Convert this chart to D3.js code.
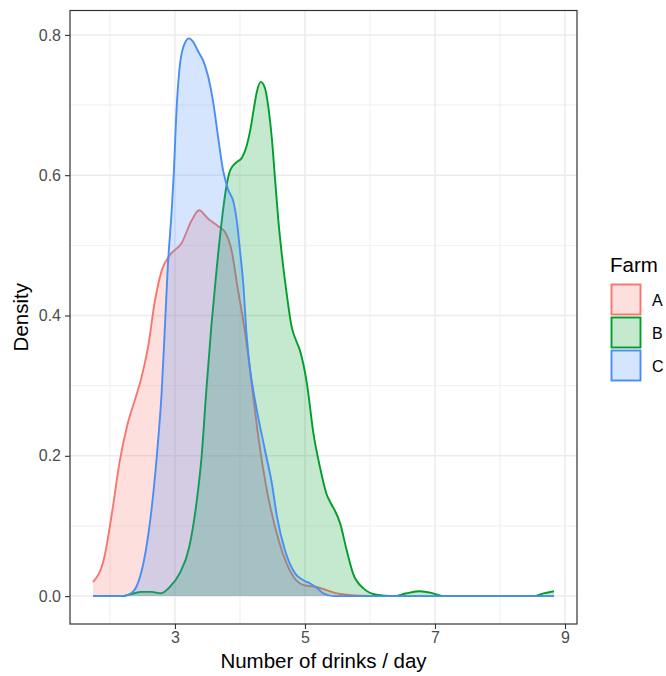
<!DOCTYPE html>
<html>
<head>
<meta charset="utf-8">
<script src="https://cdn.jsdelivr.net/npm/d3@7"></script>
<style>
  body { margin: 0; background: #fff; }
  text { font-family: "Liberation Sans", Arial, Helvetica, sans-serif; }
</style>
</head>
<body>
<svg id="chart" width="666" height="676"></svg>
<script>
// density estimates, one pair of arrays per farm
var farms = ["A", "B", "C"]
var colors = ["#F8766D", "#009E2A", "#4A8DF6"]

var drinksA  = [1.74, 1.92, 2.03, 2.15, 2.27, 2.385, 2.48, 2.59, 2.69, 2.80, 2.92, 3.10, 3.26, 3.37, 3.51, 3.67, 3.77, 3.87, 3.97, 4.05, 4.13, 4.21, 4.29, 4.40, 4.61, 4.82, 4.97, 5.10, 5.18, 5.33, 5.54, 5.85, 6.2, 8.83]
var densityA = [0.020, 0.058, 0.118, 0.192, 0.245, 0.280, 0.310, 0.357, 0.420, 0.465, 0.486, 0.503, 0.536, 0.550, 0.538, 0.527, 0.519, 0.493, 0.436, 0.393, 0.341, 0.280, 0.222, 0.158, 0.075, 0.028, 0.016, 0.014, 0.013, 0.0086, 0.003, 0.0005, 0, 0]

var drinksB  = [1.74, 2.2, 2.33, 2.49, 2.64, 2.78, 2.91, 3.07, 3.22, 3.32, 3.41, 3.48, 3.56, 3.64, 3.72, 3.795, 3.85, 3.94, 4.03, 4.10, 4.16, 4.21, 4.26, 4.32, 4.385, 4.44, 4.49, 4.54, 4.59, 4.64, 4.72, 4.795, 4.86, 4.92, 5.03, 5.13, 5.23, 5.33, 5.40, 5.46, 5.54, 5.64, 5.74, 5.90, 6.10, 6.36, 6.56, 6.77, 6.97, 7.13, 8.51, 8.67, 8.83]
var densityB = [0, 0, 0.003, 0.006, 0.006, 0.004, 0.012, 0.032, 0.070, 0.125, 0.199, 0.290, 0.385, 0.465, 0.535, 0.586, 0.607, 0.618, 0.625, 0.641, 0.665, 0.693, 0.719, 0.733, 0.724, 0.695, 0.653, 0.594, 0.536, 0.490, 0.430, 0.384, 0.365, 0.351, 0.303, 0.232, 0.184, 0.146, 0.132, 0.122, 0.104, 0.066, 0.032, 0.011, 0.002, 0, 0.004, 0.007, 0.004, 0, 0, 0.004, 0.007]

var drinksC  = [1.74, 2.18, 2.31, 2.44, 2.55, 2.65, 2.72, 2.795, 2.846, 2.89, 2.95, 2.98, 3.03, 3.08, 3.15, 3.22, 3.28, 3.36, 3.44, 3.51, 3.59, 3.67, 3.74, 3.82, 3.90, 3.95, 4.00, 4.05, 4.10, 4.15, 4.23, 4.385, 4.49, 4.57, 4.69, 4.85, 4.97, 5.08, 5.18, 5.28, 5.45, 8.83]
var densityC = [0, 0, 0.003, 0.021, 0.064, 0.132, 0.199, 0.290, 0.385, 0.470, 0.550, 0.600, 0.703, 0.760, 0.788, 0.795, 0.790, 0.776, 0.762, 0.741, 0.703, 0.650, 0.607, 0.579, 0.562, 0.536, 0.493, 0.446, 0.375, 0.327, 0.280, 0.208, 0.161, 0.113, 0.066, 0.032, 0.023, 0.018, 0.012, 0.004, 0, 0]

var xTicks = [3, 5, 7, 9]
var yTicks = [0.0, 0.2, 0.4, 0.6, 0.8]

var series = [
  {farm: farms[0], color: colors[0], xs: drinksA, ys: densityA},
  {farm: farms[1], color: colors[1], xs: drinksB, ys: densityB},
  {farm: farms[2], color: colors[2], xs: drinksC, ys: densityC}
]

// panel edges (window.top is reserved, so use own names)
var pL = 70, pR = 577, pT = 10.5, pB = 624
var svg = d3.select("#chart")

// ggplot style 5% expansion on both axes
var xmin = d3.min(series, function(s){ return d3.min(s.xs) })
var xmax = d3.max(series, function(s){ return d3.max(s.xs) })
var ymax = d3.max(series, function(s){ return d3.max(s.ys) })
var xpad = (xmax - xmin) * 0.05
var ypad = ymax * 0.05
var x = d3.scaleLinear().domain([xmin - xpad, xmax + xpad]).range([pL, pR])
var y = d3.scaleLinear().domain([-ypad, ymax + ypad]).range([pB, pT])

// grid
var grid = svg.append("g")
var xMinor = [2, 4, 6, 8]
var yMinor = [0.1, 0.3, 0.5, 0.7]
grid.selectAll(".xm").data(xMinor).enter().append("line")
  .attr("x1", x).attr("x2", x).attr("y1", pT).attr("y2", pB)
  .attr("stroke", "#EBEBEB").attr("stroke-width", 0.8)
grid.selectAll(".ym").data(yMinor).enter().append("line")
  .attr("x1", pL).attr("x2", pR).attr("y1", y).attr("y2", y)
  .attr("stroke", "#EBEBEB").attr("stroke-width", 0.8)
grid.selectAll(".xM").data(xTicks).enter().append("line")
  .attr("x1", x).attr("x2", x).attr("y1", pT).attr("y2", pB)
  .attr("stroke", "#EBEBEB").attr("stroke-width", 1.5)
grid.selectAll(".yM").data(yTicks).enter().append("line")
  .attr("x1", pL).attr("x2", pR).attr("y1", y).attr("y2", y)
  .attr("stroke", "#EBEBEB").attr("stroke-width", 1.5)

// densities, drawn in farm order like ggplot
var area = d3.area()
  .x(function(d){ return x(d[0]) })
  .y0(y(0))
  .y1(function(d){ return y(d[1]) })
  .curve(d3.curveMonotoneX)
var line = d3.line()
  .x(function(d){ return x(d[0]) })
  .y(function(d){ return y(d[1]) })
  .curve(d3.curveMonotoneX)

series.forEach(function(s){
  var pts = d3.zip(s.xs, s.ys)
  var g = svg.append("g")
  g.append("path").datum(pts).attr("d", area)
    .attr("fill", s.color).attr("fill-opacity", 0.23).attr("stroke", "none")
  g.append("path").datum(pts).attr("d", line)
    .attr("fill", "none").attr("stroke", s.color).attr("stroke-width", 1.9)
})

// panel border
svg.append("rect").attr("x", pL).attr("y", pT)
  .attr("width", pR - pL).attr("height", pB - pT)
  .attr("fill", "none").attr("stroke", "#333333").attr("stroke-width", 1.2)

// axes
var xAxis = svg.append("g").attr("transform", "translate(0," + pB + ")")
  .call(d3.axisBottom(x).tickValues(xTicks).tickSize(5).tickPadding(3).tickFormat(d3.format("d")))
var yAxis = svg.append("g").attr("transform", "translate(" + pL + ",0)")
  .call(d3.axisLeft(y).tickValues(yTicks).tickSize(5).tickPadding(4).tickFormat(d3.format(".1f")))
;[xAxis, yAxis].forEach(function(a){
  a.attr("font-size", null).attr("font-family", null)
  a.select(".domain").remove()
  a.selectAll(".tick line").attr("stroke", "#333333").attr("stroke-width", 1.1)
  a.selectAll(".tick text").attr("fill", "#4D4D4D").style("font-size", "16px")
})

svg.append("text").attr("x", (pL + pR) / 2).attr("y", 668)
  .attr("text-anchor", "middle").style("font-size", "20.5px").attr("fill", "#000")
  .text("Number of drinks / day")
svg.append("text").attr("transform", "translate(28," + ((pT + pB) / 2) + ") rotate(-90)")
  .attr("text-anchor", "middle").style("font-size", "20.5px").attr("fill", "#000")
  .text("Density")

// legend
var legend = svg.append("g").attr("transform", "translate(610,0)")
legend.append("text").attr("x", 0).attr("y", 272).style("font-size", "20.5px").text("Farm")
var keys = legend.selectAll(".key").data(series).enter().append("g")
  .attr("transform", function(d, i){ return "translate(0," + (283 + i * 33) + ")" })
keys.append("rect").attr("x", 1.5).attr("y", 1.5).attr("width", 29).attr("height", 30)
  .attr("fill", function(d){ return d.color }).attr("fill-opacity", 0.23)
  .attr("stroke", function(d){ return d.color }).attr("stroke-width", 1.9)
keys.append("text").attr("x", 42).attr("y", 17).attr("dy", "0.35em")
  .style("font-size", "16px").attr("fill", "#000")
  .text(function(d){ return d.farm })
</script>
</body>
</html>
